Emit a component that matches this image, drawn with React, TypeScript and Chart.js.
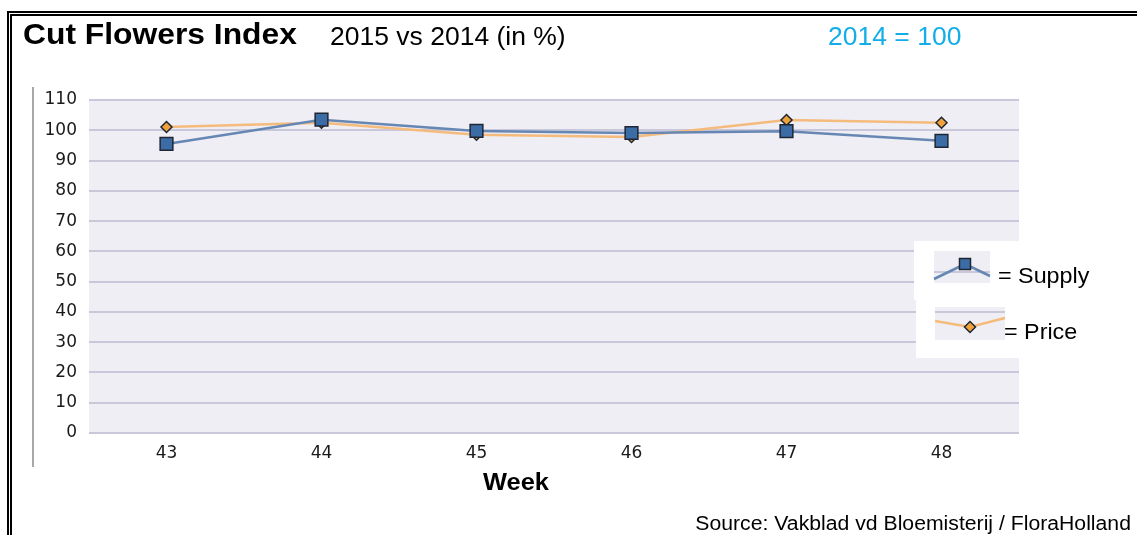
import React, { useEffect, useRef } from "react";
import { Chart, registerables } from "chart.js";

Chart.register(...registerables);

const weeks = ["43", "44", "45", "46", "47", "48"];
const supplyValues = [95.5, 103.5, 99.8, 99.1, 99.7, 96.5];
const priceValues = [101.1, 102.5, 98.5, 97.8, 103.4, 102.5];
const yMin = 0;
const yMax = 110;
const yStep = 10;

const SUPPLY_LINE = "#6687b3";
const SUPPLY_FILL = "#3b6ca6";
const PRICE_LINE = "#f5bb7c";
const PRICE_FILL = "#f0a23a";
const MARKER_BORDER = "#1e2633";
const PLOT_BG = "#efeef4";
const GRID = "#c8c8da";
const FONT = "'Liberation Sans', Arial, sans-serif";
const TICK_FONT = "'DejaVu Sans', sans-serif";

const plotBg = {
  id: "plotBg",
  beforeDraw(chart: any) {
    const { ctx, chartArea } = chart;
    ctx.save();
    ctx.fillStyle = PLOT_BG;
    ctx.fillRect(chartArea.left, chartArea.top, chartArea.right - chartArea.left, chartArea.bottom - chartArea.top);
    ctx.restore();
  },
};

function drawSquare(ctx: CanvasRenderingContext2D, x: number, y: number, s: number, fill: string) {
  ctx.fillStyle = fill;
  ctx.strokeStyle = MARKER_BORDER;
  ctx.lineWidth = 1.5;
  ctx.beginPath();
  ctx.rect(x - s / 2, y - s / 2, s, s);
  ctx.fill();
  ctx.stroke();
}
function drawDiamond(ctx: CanvasRenderingContext2D, x: number, y: number, r: number, fill: string) {
  ctx.fillStyle = fill;
  ctx.strokeStyle = MARKER_BORDER;
  ctx.lineWidth = 1.5;
  ctx.beginPath();
  ctx.moveTo(x, y - r);
  ctx.lineTo(x + r, y);
  ctx.lineTo(x, y + r);
  ctx.lineTo(x - r, y);
  ctx.closePath();
  ctx.fill();
  ctx.stroke();
}

const legendPatches = {
  id: "legendPatches",
  afterDraw(chart: any) {
    const ctx: CanvasRenderingContext2D = chart.ctx;
    ctx.save();
    ctx.fillStyle = "#ffffff";
    ctx.fillRect(914, 241, 106, 59);
    ctx.fillRect(916, 300, 104, 58);
    // supply patch
    ctx.fillStyle = PLOT_BG;
    ctx.fillRect(934, 251, 56, 32);
    ctx.fillStyle = GRID;
    ctx.fillRect(934, 271, 56, 2);
    ctx.strokeStyle = SUPPLY_LINE;
    ctx.lineWidth = 2.5;
    ctx.beginPath();
    ctx.moveTo(934, 279);
    ctx.lineTo(965, 264);
    ctx.lineTo(990, 276);
    ctx.stroke();
    drawSquare(ctx, 965, 264, 11, SUPPLY_FILL);
    // price patch
    ctx.fillStyle = PLOT_BG;
    ctx.fillRect(935, 307, 70, 33);
    ctx.fillStyle = GRID;
    ctx.fillRect(935, 311, 70, 2);
    ctx.strokeStyle = PRICE_LINE;
    ctx.lineWidth = 2.5;
    ctx.beginPath();
    ctx.moveTo(935, 321);
    ctx.lineTo(970, 327);
    ctx.lineTo(1005, 318);
    ctx.stroke();
    drawDiamond(ctx, 970, 327, 5.5, PRICE_FILL);
    ctx.restore();
  },
};

const textBase: React.CSSProperties = {
  position: "absolute",
  fontFamily: FONT,
  lineHeight: 1,
  whiteSpace: "nowrap",
  color: "#000",
  transform: "scaleX(1.06)",
  transformOrigin: "left top",
};

export default function App() {
  const ref = useRef<HTMLCanvasElement | null>(null);

  useEffect(() => {
    if (!ref.current) return;
    const chart = new Chart(ref.current, {
      type: "line",
      data: {
        labels: weeks,
        datasets: [
          {
            label: "Supply",
            data: supplyValues,
            borderColor: SUPPLY_LINE,
            borderWidth: 2.5,
            backgroundColor: SUPPLY_FILL,
            pointStyle: "rect",
            pointRadius: 9,
            pointBorderColor: MARKER_BORDER,
            pointBorderWidth: 1.5,
            pointBackgroundColor: SUPPLY_FILL,
            tension: 0,
          },
          {
            label: "Price",
            data: priceValues,
            borderColor: PRICE_LINE,
            borderWidth: 2.5,
            backgroundColor: PRICE_FILL,
            pointStyle: "rectRot",
            pointRadius: 5.5,
            pointBorderColor: MARKER_BORDER,
            pointBorderWidth: 1.5,
            pointBackgroundColor: PRICE_FILL,
            tension: 0,
          },
        ],
      },
      options: {
        animation: false,
        responsive: false,
        maintainAspectRatio: false,
        layout: { padding: { left: 0, top: 100, right: 118, bottom: 72 } },
        plugins: { legend: { display: false }, tooltip: { enabled: false }, title: { display: false } },
        scales: {
          x: {
            type: "category",
            offset: true,
            grid: { display: false, drawTicks: false },
            border: { display: false },
            ticks: { padding: 10, color: "#1a1a1a", font: { family: TICK_FONT, size: 17 } },
            afterFit: (s: any) => {
              s.height = 30;
            },
          },
          y: {
            min: yMin,
            max: yMax,
            grid: { color: GRID, lineWidth: 2, drawTicks: false },
            border: { display: false },
            ticks: { stepSize: yStep, padding: 12, color: "#1a1a1a", font: { family: TICK_FONT, size: 17 } },
            afterFit: (s: any) => {
              s.width = 89;
            },
          },
        },
      },
      plugins: [plotBg, legendPatches],
    });
    return () => chart.destroy();
  }, []);

  return (
    <div style={{ position: "fixed", left: 0, top: 0, width: 1137, height: 535, overflow: "hidden", background: "#fff" }}>
      <div style={{ position: "absolute", left: 7, top: 11, width: 2000, height: 2000, borderLeft: "2px solid #000", borderTop: "2px solid #000" }} />
      <div style={{ position: "absolute", left: 10, top: 14, width: 2000, height: 2000, borderLeft: "2px solid #000", borderTop: "2px solid #000" }} />
      <div style={{ position: "absolute", left: 32, top: 87, width: 2, height: 380, background: "#a8a8a8" }} />
      <canvas ref={ref} width={1137} height={535} style={{ position: "absolute", left: 0, top: 0, width: 1137, height: 535 }} />
      <div style={{ ...textBase, left: 23, top: 19, fontSize: 30, fontWeight: "bold" }}>Cut Flowers Index</div>
      <div style={{ ...textBase, left: 330, top: 24, fontSize: 25 }}>2015 vs 2014 (in %)</div>
      <div style={{ ...textBase, left: 828, top: 24, fontSize: 25, color: "#13aee8" }}>2014 = 100</div>
      <div style={{ ...textBase, left: 483, top: 470, fontSize: 24, fontWeight: "bold" }}>Week</div>
      <div style={{ ...textBase, left: 998, top: 265, fontSize: 22 }}>= Supply</div>
      <div style={{ ...textBase, left: 1004, top: 321, fontSize: 22 }}>= Price</div>
      <div style={{ ...textBase, right: 6, top: 513, fontSize: 20, transformOrigin: "right top" }}>Source: Vakblad vd Bloemisterij / FloraHolland</div>
    </div>
  );
}
